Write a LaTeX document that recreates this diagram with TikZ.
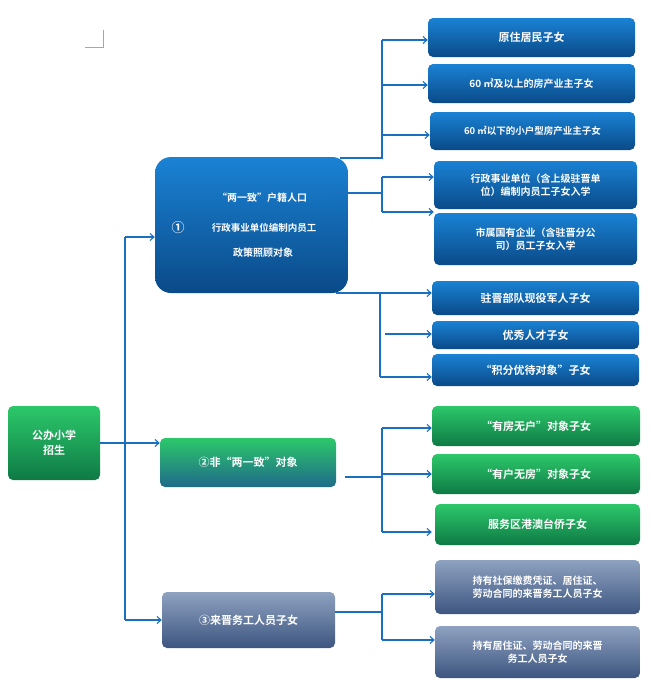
\documentclass[tikz,border=0pt]{standalone}
\usepackage{fontspec}
\setmainfont{Noto Sans CJK SC}[BoldFont={Noto Sans CJK SC Bold}]
\usetikzlibrary{arrows.meta}
\definecolor{bt}{HTML}{1A82D4}\definecolor{bb}{HTML}{0A4A88}
\definecolor{gt}{HTML}{2CC86A}\definecolor{gb}{HTML}{0E7A45}
\definecolor{tb}{HTML}{1F6A8A}
\definecolor{st}{HTML}{8EA2C0}\definecolor{sb}{HTML}{3D5580}
\definecolor{ln}{HTML}{1B6FC0}
\begin{document}
\begin{tikzpicture}[x=1pt,y=-1pt,
 box/.style={rounded corners=5pt,text=white,font=\bfseries\fontsize{10}{13}\selectfont,align=center,inner sep=2pt},
 blue/.style={box,top color=bt,bottom color=bb},
 green/.style={box,top color=gt,bottom color=gb},
 slate/.style={box,top color=st,bottom color=sb},
 ar/.style={draw=ln,line width=1.1pt,-{Straight Barb[length=4pt,width=7pt]}},
 ln/.style={draw=ln,line width=1.1pt}]
\useasboundingbox (0,0) rectangle (658,696);
\draw[gray!70] (103,30)--(103,47)--(85,47);
\newcommand{\bx}[6]{\node[#1,minimum width={#4-#2},minimum height={#5-#3}] (#6) at ({(#2+#4)/2},{(#3+#5)/2}) {};}
\bx{green}{8}{406}{100}{480}{root}
\node[text=white,font=\bfseries\fontsize{11}{15}\selectfont,align=center] at (root) {公办小学\\招生};
\node[blue,rounded corners=16pt,minimum width=193,minimum height=136] (n1) at (251.5,225) {};
\node[text=white,font=\bfseries\fontsize{10}{14}\selectfont] at (262,198) {“两一致”户籍人口};
\node[text=white,font=\bfseries\fontsize{13}{14}\selectfont] at (178,228) {①};
\node[text=white,font=\bfseries\fontsize{9.5}{14}\selectfont] at (264,228) {行政事业单位编制内员工};
\node[text=white,font=\bfseries\fontsize{10}{14}\selectfont] at (263,253) {政策照顾对象};
\node[box,top color=gt,bottom color=tb,minimum width=176,minimum height=49,font=\bfseries\fontsize{11}{13}\selectfont] (n2) at (248,462.5) {②非“两一致”对象};
\node[slate,minimum width=173,minimum height=56,font=\bfseries\fontsize{11}{13}\selectfont] (n3) at (248.5,620) {③来晋务工人员子女};
% right boxes
\node[blue,minimum width=207,minimum height=39,font=\bfseries\fontsize{11}{13}\selectfont] (r1) at (531.5,37.5) {原住居民子女};
\node[blue,minimum width=207,minimum height=39,font=\bfseries\fontsize{10}{13}\selectfont] (r2) at (531.5,83.5) {60 ㎡及以上的房产业主子女};
\node[blue,minimum width=205,minimum height=38,font=\bfseries\fontsize{9.5}{13}\selectfont] (r3) at (532.5,131) {60 ㎡以下的小户型房产业主子女};
\node[blue,minimum width=203,minimum height=48] (r4) at (535.5,185) {行政事业单位（含上级驻晋单\\位）编制内员工子女入学};
\node[blue,minimum width=203,minimum height=52] (r5) at (535.5,239) {市属国有企业（含驻晋分公\\司）员工子女入学};
\node[blue,minimum width=207,minimum height=34,font=\bfseries\fontsize{11}{13}\selectfont] (r6) at (535.5,298) {驻晋部队现役军人子女};
\node[blue,minimum width=207,minimum height=28,font=\bfseries\fontsize{11}{13}\selectfont] (r7) at (535.5,335) {优秀人才子女};
\node[blue,minimum width=207,minimum height=32,font=\bfseries\fontsize{11}{13}\selectfont] (r8) at (535.5,370) {“积分优待对象”子女};
\node[green,minimum width=208,minimum height=40,font=\bfseries\fontsize{11}{13}\selectfont] (g1) at (536,426) {“有房无户”对象子女};
\node[green,minimum width=208,minimum height=40,font=\bfseries\fontsize{11}{13}\selectfont] (g2) at (536,474) {“有户无房”对象子女};
\node[green,minimum width=205,minimum height=41,font=\bfseries\fontsize{11}{13}\selectfont] (g3) at (537.5,524.5) {服务区港澳台侨子女};
\node[slate,minimum width=205,minimum height=54] (s1) at (537.5,587) {持有社保缴费凭证、居住证、\\劳动合同的来晋务工人员子女};
\node[slate,minimum width=205,minimum height=52] (s2) at (537.5,652) {持有居住证、劳动合同的来晋\\务工人员子女};
% connectors
\coordinate (t) at (125,237); \coordinate (b) at (125,620);
\draw[ln] (root.east |- 0,443) -- (125,443);
\draw[ln] (t) -- (b);
\draw[ar] (t) -- (n1.west |- t);
\draw[ar] (125,443) -- (n2.west |- 0,443);
\draw[ar] (b) -- (n3.west |- b);
\draw[ln] (340,158) -- (382,158) -- (382,40);
\draw[ar] (382,40) -- (r1.west |- 0,40);
\draw[ar] (382,85) -- (r2.west |- 0,85);
\draw[ar] (382,135) -- (r3.west |- 0,135);
\draw[ln] (333,193) -- (382,193);
\draw[ln] (382,177) -- (382,212);
\draw[ar] (382,177) -- (r4.west |- 0,177);
\draw[ar] (382,212) -- (r5.west |- 0,212);
\draw[ln] (336,293) -- (380,293) -- (380,377);
\draw[ar] (380,293) -- (r6.west |- 0,293);
\draw[ar] (385,334) -- (r7.west |- 0,334);
\draw[ar] (380,377) -- (r8.west |- 0,377);
\draw[ln] (345,477) -- (382,477);
\draw[ln] (382,428) -- (382,532);
\draw[ar] (382,428) -- (r8.west |- 0,428);
\draw[ar] (382,474) -- (r8.west |- 0,474);
\draw[ar] (382,532) -- (r8.west |- 0,532);
\draw[ln] (335,612) -- (382,612);
\draw[ln] (382,594) -- (382,640);
\draw[ar] (382,594) -- (s1.west |- 0,594);
\draw[ar] (382,640) -- (s2.west |- 0,640);
\end{tikzpicture}
\end{document}
